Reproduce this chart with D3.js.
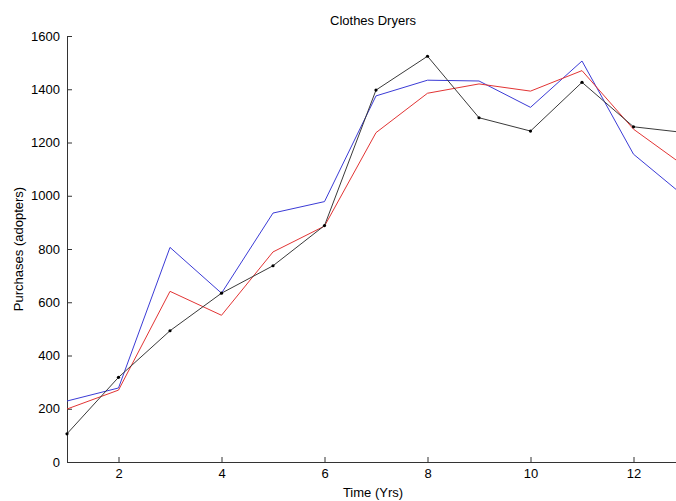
<!DOCTYPE html>
<html>
<head>
<meta charset="utf-8">
<script src="https://cdn.jsdelivr.net/npm/d3@7"></script>
<style>
  html, body { margin: 0; padding: 0; background: #fff; }
  svg { display: block; font-family: "Liberation Sans", Arial, sans-serif; }
</style>
</head>
<body>
<svg id="chart" width="676" height="501"></svg>
<script>
// ---- data ----
const years = [1, 2, 3, 4, 5, 6, 7, 8, 9, 10, 11, 12, 13];
const actual = [106, 318, 493, 634, 737, 888, 1397, 1524, 1293, 1243, 1426, 1259, 1237];
const modelBlue = [229, 278, 806, 634, 935, 978, 1375, 1434, 1431, 1332, 1506, 1156, 996];
const modelRed = [199, 270, 641, 551, 789, 886, 1237, 1385, 1420, 1393, 1470, 1250, 1110];
const xTicks = [2, 4, 6, 8, 10, 12];
const yTicks = [0, 200, 400, 600, 800, 1000, 1200, 1400, 1600];
const titleText = "Clothes Dryers";
const xLabel = "Time (Yrs)";
const yLabel = "Purchases (adopters)";

// ---- layout ----
const svg = d3.select("#chart");
const mLeft = 67, mRight = 685, mTop = 36, mBottom = 462;

const x = d3.scaleLinear().domain([1, 13]).range([mLeft, mRight]);
const y = d3.scaleLinear().domain([0, 1600]).range([mBottom, mTop]);

const axisColor = "#333";

// x axis
const gx = svg.append("g")
  .attr("transform", `translate(0,${mBottom})`)
  .call(d3.axisBottom(x).tickValues(xTicks).tickFormat(d3.format("d"))
    .tickSizeInner(-5).tickSizeOuter(0).tickPadding(7));
// y axis
const gy = svg.append("g")
  .attr("transform", `translate(${mLeft},0)`)
  .call(d3.axisLeft(y).tickValues(yTicks).tickFormat(d3.format("d"))
    .tickSizeInner(-5).tickSizeOuter(0).tickPadding(7));

[gx, gy].forEach(g => {
  g.select(".domain").attr("stroke", axisColor).attr("stroke-width", 1);
  g.selectAll(".tick line").attr("stroke", axisColor);
  g.selectAll(".tick text").attr("fill", "#000").style("font-size", "13px")
    .style("font-family", "'Liberation Sans', Arial, sans-serif");
});

// lines
const line = (vals) => d3.line()
  .x((d, i) => x(years[i]))
  .y(d => y(d))(vals);

const series = [
  { vals: modelBlue, color: "#3b3bd6" },
  { vals: modelRed, color: "#e23434" },
  { vals: actual, color: "#3a3a3a" }
];
series.forEach(s => {
  svg.append("path")
    .attr("d", line(s.vals))
    .attr("fill", "none")
    .attr("stroke", s.color)
    .attr("stroke-width", 1);
});

// markers on actual
svg.append("g").selectAll("circle")
  .data(actual)
  .join("circle")
  .attr("cx", (d, i) => x(years[i]))
  .attr("cy", d => y(d))
  .attr("r", 1.6)
  .attr("fill", "#000");

// texts
const cx = (mLeft + mRight) / 2 - 3;
svg.append("text")
  .attr("x", cx).attr("y", 25)
  .attr("text-anchor", "middle")
  .style("font-size", "13px")
  .text(titleText);

svg.append("text")
  .attr("x", cx).attr("y", 497)
  .attr("text-anchor", "middle")
  .style("font-size", "13px")
  .text(xLabel);

svg.append("text")
  .attr("transform", `translate(23,${(mTop + mBottom) / 2}) rotate(-90)`)
  .attr("text-anchor", "middle")
  .style("font-size", "13px")
  .text(yLabel);
</script>
</body>
</html>
